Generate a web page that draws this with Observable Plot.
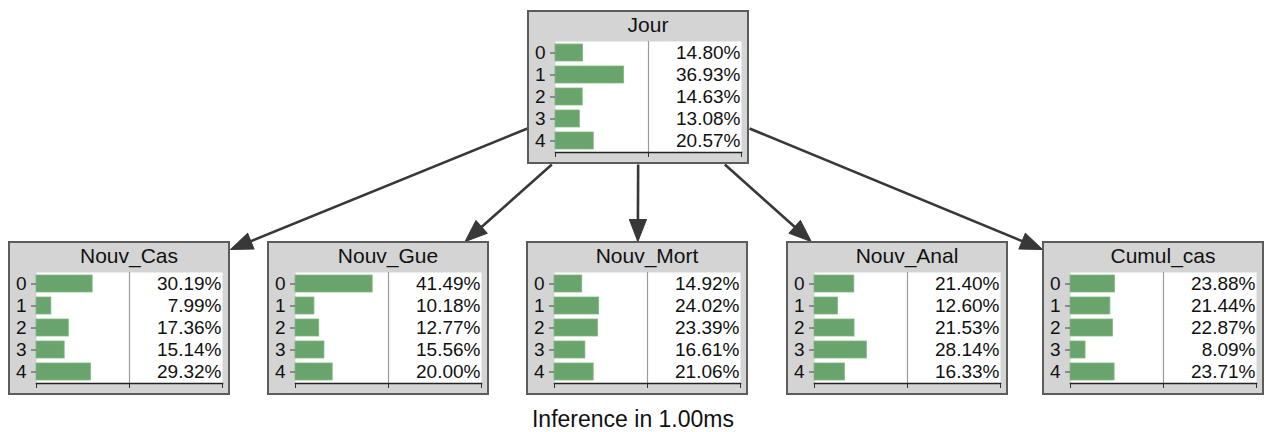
<!DOCTYPE html>
<html>
<head>
<meta charset="utf-8">
<script src="https://cdn.jsdelivr.net/npm/d3@7"></script>
<script src="https://cdn.jsdelivr.net/npm/@observablehq/plot@0.6"></script>
<style>
  body { margin: 0; background: #fff; font-family: "Liberation Sans", Arial, sans-serif; }
  #wrap { position: relative; width: 1266px; height: 405px; }
  .node { position: absolute; box-sizing: border-box; width: 222px; height: 154px;
          background: #d4d4d4; border: 2px solid #5c5c5c; }
  .node .title { position: absolute; left: 26px; width: 186px; top: 3px; text-align: center;
                 font-size: 21px; line-height: 20px; color: #111; }
  .node svg { position: absolute; left: 0; top: 0; }
  #caption { width: 1266px; text-align: center; font-size: 23px; line-height: 23px; margin-top: 3px; color: #111; }
</style>
</head>
<body>
<div id="wrap"></div>
<div id="caption">Inference in 1.00ms</div>
<script>
// ---- data ----
const states = ["0", "1", "2", "3", "4"];
const nodeNames = ["Jour", "Nouv_Cas", "Nouv_Gue", "Nouv_Mort", "Nouv_Anal", "Cumul_cas"];
const jour     = [14.80, 36.93, 14.63, 13.08, 20.57];
const nouvCas  = [30.19, 7.99, 17.36, 15.14, 29.32];
const nouvGue  = [41.49, 10.18, 12.77, 15.56, 20.00];
const nouvMort = [14.92, 24.02, 23.39, 16.61, 21.06];
const nouvAnal = [21.40, 12.60, 21.53, 28.14, 16.33];
const cumulCas = [23.88, 21.44, 22.87, 8.09, 23.71];
const parentName = "Jour";
const childNames = ["Nouv_Cas", "Nouv_Gue", "Nouv_Mort", "Nouv_Anal", "Cumul_cas"];

// ---- layout ----
const values = {Jour: jour, Nouv_Cas: nouvCas, Nouv_Gue: nouvGue, Nouv_Mort: nouvMort, Nouv_Anal: nouvAnal, Cumul_cas: cumulCas};
const BW = 222, BH = 154;
const layout = {
  Jour: [527, 10],
  Nouv_Cas: [8, 241], Nouv_Gue: [267, 241], Nouv_Mort: [526, 241],
  Nouv_Anal: [786, 241], Cumul_cas: [1042, 241]
};
const green = "#6aa46d";
const font = "'Liberation Sans', Arial, sans-serif";
const wrap = document.getElementById("wrap");

// ---- edges (computed from box geometry) ----
const [px, py] = layout[parentName];
const pcx = px + BW / 2, pcy = py + BH / 2;
const edges = childNames.map(name => {
  const [cx, cy] = layout[name];
  const ccx = cx + BW / 2, ccy = cy + BH / 2;
  let x1, y1, x2, y2;
  if (ccx - pcx < -400) {              // far left
    x1 = px; y1 = py + 118; x2 = cx + BW; y2 = cy + 8;
  } else if (ccx - pcx > 400) {        // far right
    x1 = px + BW; y1 = py + 118; x2 = cx; y2 = cy + 8;
  } else {                             // center-to-center clipped
    const dx = ccx - pcx, dy = ccy - pcy;
    const t1 = (py + BH - pcy) / dy, t2 = (cy - pcy) / dy;
    x1 = pcx + dx * t1; y1 = py + BH; x2 = pcx + dx * t2; y2 = cy;
  }
  const len = Math.hypot(x2 - x1, y2 - y1);
  const ux = (x2 - x1) / len, uy = (y2 - y1) / len;
  return {x1, y1, x2, y2, lx: x2 - ux * 14, ly: y2 - uy * 14, rot: Math.atan2(ux, -uy) * 180 / Math.PI};
});

const head = {
  draw(context, l) {
    context.moveTo(0, -l);
    context.lineTo(-8.5, 0);
    context.lineTo(8.5, 0);
    context.closePath();
  }
};

const arrows = Plot.plot({
  width: 1266, height: 405,
  margin: 0,
  x: {type: "identity", axis: null}, y: {type: "identity", axis: null},
  style: {background: "transparent", overflow: "visible"},
  marks: [
    Plot.link(edges, {x1: "x1", y1: "y1", x2: "lx", y2: "ly", stroke: "#383838", strokeWidth: 2.6}),
    Plot.vector(edges, {x: "x2", y: "y2", rotate: "rot", length: 22, anchor: "end", shape: head,
                        fill: "#383838", stroke: "#383838", strokeWidth: 1})
  ]
});
arrows.style.position = "absolute";
arrows.style.left = "0px";
arrows.style.top = "0px";
wrap.appendChild(arrows);

// ---- nodes ----
for (const name of nodeNames) {
  const [x, y] = layout[name];
  const data = states.map((s, i) => ({state: s, value: values[name][i]}));
  const div = document.createElement("div");
  div.className = "node";
  div.style.left = x + "px";
  div.style.top = y + "px";
  const t = document.createElement("div");
  t.className = "title";
  t.textContent = name;
  div.appendChild(t);
  const chart = Plot.plot({
    width: 218, height: 150,
    marginLeft: 26, marginRight: 6, marginTop: 29, marginBottom: 10,
    x: {domain: [0, 100], axis: null},
    y: {type: "band", domain: states, paddingInner: 0.24, paddingOuter: 0.06, axis: null},
    style: {background: "transparent", fontFamily: font, overflow: "visible"},
    marks: [
      Plot.frame({fill: "white", stroke: null}),
      Plot.ruleX([50], {stroke: "#9a9a9a", strokeWidth: 1.2}),
      Plot.barX(data, {y: "state", x: "value", fill: green, stroke: "#7fb880", strokeWidth: 0.8}),
      Plot.text(data, {y: "state", x: 100, text: d => d.value.toFixed(2) + "%", textAnchor: "end",
                       dx: -1, fontSize: 19, fill: "#111"}),
      Plot.axisY({tickSize: 5, tickPadding: 5, fontSize: 19, label: null, color: "#111", stroke: "#444"}),
      Plot.axisX({ticks: [0, 50, 100], tickSize: 5, tickFormat: () => "", label: null, stroke: "#333"}),
      Plot.frame({anchor: "bottom", stroke: "#222", strokeWidth: 1.5})
    ]
  });
  div.appendChild(chart);
  wrap.appendChild(div);
}
</script>
</body>
</html>
